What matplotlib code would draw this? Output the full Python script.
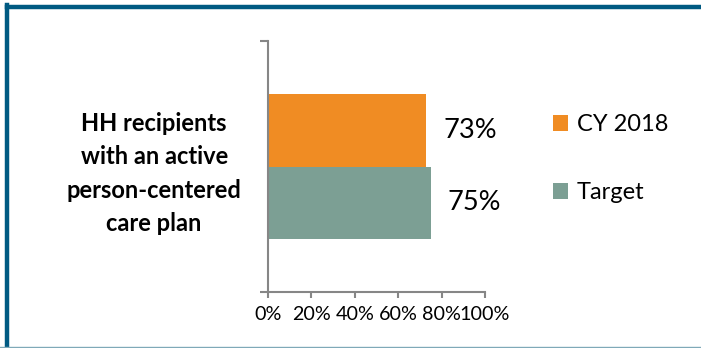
import matplotlib.pyplot as plt
from matplotlib.lines import Line2D

plt.rcParams['font.family'] = ['Lato', 'DejaVu Sans']

# data
category = "HH recipients\nwith an active\nperson-centered\ncare plan"
series_names = ["CY 2018", "Target"]
series_values = [0.73, 0.75]
series_colors = ["#F08C23", "#7C9F94"]
xticks = [0, 0.2, 0.4, 0.6, 0.8, 1.0]
xtick_labels = ["0%", "20%", "40%", "60%", "80%", "100%"]

fig = plt.figure(figsize=(7.01, 3.48), dpi=100)
ax = fig.add_axes([268 / 701, 1 - 292 / 348, 217 / 701, 251 / 348])

bar_h = 0.287
offsets = [bar_h / 2, -bar_h / 2]
for name, val, col, off in zip(series_names, series_values, series_colors, offsets):
    bars = ax.barh([off], [val], height=bar_h, color=col, label=name)
    ax.bar_label(bars, labels=[f"{val:.0%}"], padding=12, fontsize=19.5)

ax.set_xlim(0, 1)
ax.set_ylim(-0.5, 0.5)
ax.set_xticks(xticks, labels=xtick_labels, fontsize=14.2)
ax.set_yticks([-0.5, 0.5], labels=["", ""])
ax.set_yticks([0], labels=[category], minor=True)
ax.tick_params(axis='y', which='minor', length=0, pad=19)
ax.tick_params(axis='y', which='major', length=6, width=1.5, color='#868686')
ax.tick_params(axis='x', length=4, width=1.5, color='#868686', pad=6)
for lab in ax.get_yticklabels(minor=True):
    lab.set_fontweight('bold')
    lab.set_fontsize(17)
    lab.set_multialignment('center')
    lab.set_linespacing(1.55)

for s in ['top', 'right']:
    ax.spines[s].set_visible(False)
for s in ['left', 'bottom']:
    ax.spines[s].set_color('#868686')
    ax.spines[s].set_linewidth(1.5)

ax.legend(loc='upper left', bbox_to_anchor=(553 / 701, 1 - 114 / 348),
          bbox_transform=fig.transFigure, frameon=False, fontsize=17,
          handlelength=0.65, handleheight=0.65, handletextpad=0.35,
          labelspacing=2.0, borderaxespad=0, borderpad=0)

# frame lines
fig.add_artist(Line2D([7 / 701, 1], [1 - 6.5 / 348, 1 - 6.5 / 348], color='#005A82', lw=3.2))
fig.add_artist(Line2D([7 / 701, 7 / 701], [1 - 5 / 348, 1 - 346 / 348], color='#005A82', lw=3.2))
fig.add_artist(Line2D([0, 1], [1 - 346.5 / 348, 1 - 346.5 / 348], color='#7FA9B8', lw=1))

fig.savefig('out.png', dpi=100)
